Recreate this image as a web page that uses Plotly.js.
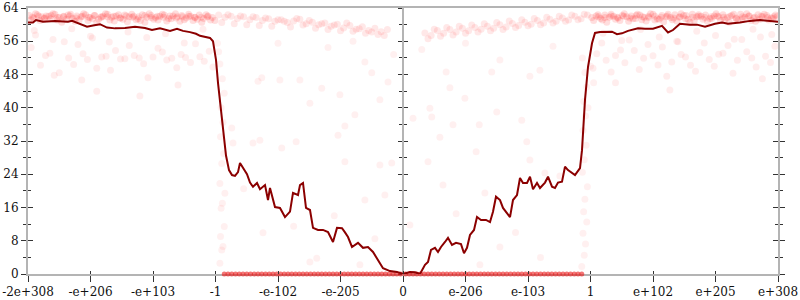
<!DOCTYPE html>
<html>
<head>
<meta charset="utf-8">
<script src="https://cdn.plot.ly/plotly-3.0.1.min.js"></script>
<style>html,body{margin:0;padding:0;background:#fff;}#chart{width:800px;height:300px;}</style>
</head>
<body>
<div id="chart"></div>
<script>
// x positions are in "tick units": -6 .. 6 map onto the 13 labelled ticks
const tickVals = [-6,-5,-4,-3,-2,-1,0,1,2,3,4,5,6];
const tickLabels = ["-2e+308","-e+206","-e+103","-1","-e-102","-e-205","0","e-206","e-103","1","e+102","e+205","e+308"];
const yTicks = [0,8,16,24,32,40,48,56,64];

// running median line
const lineX = [-6.0,-5.92,-5.872,-5.76,-5.568,-5.36,-5.296,-5.168,-5.056,-4.96,-4.848,-4.736,-4.608,-4.448,-4.288,-4.128,-4.016,-3.888,-3.728,-3.616,-3.52,-3.408,-3.312,-3.248,-3.168,-3.088,-3.04,-2.992,-2.96,-2.912,-2.864,-2.832,-2.784,-2.736,-2.688,-2.64,-2.608,-2.56,-2.496,-2.448,-2.4,-2.336,-2.288,-2.208,-2.16,-2.128,-2.048,-1.968,-1.888,-1.808,-1.76,-1.68,-1.648,-1.6,-1.552,-1.488,-1.44,-1.36,-1.28,-1.2,-1.12,-1.056,-0.976,-0.928,-0.88,-0.816,-0.72,-0.64,-0.56,-0.48,-0.4,-0.32,-0.208,-0.096,0,0.112,0.192,0.272,0.352,0.4,0.448,0.512,0.56,0.608,0.672,0.72,0.784,0.848,0.928,0.976,1.024,1.072,1.136,1.184,1.248,1.328,1.392,1.44,1.488,1.552,1.6,1.664,1.712,1.76,1.824,1.872,1.92,1.984,2.032,2.08,2.144,2.192,2.272,2.32,2.384,2.432,2.48,2.544,2.592,2.64,2.704,2.752,2.832,2.864,2.912,2.96,3.024,3.072,3.152,3.232,3.344,3.424,3.504,3.6,3.76,3.872,4.0,4.144,4.24,4.32,4.432,4.592,4.704,4.832,4.992,5.104,5.2,5.392,5.552,5.712,5.84,6.0];
const lineY = [60.5,60.5,61.1,60.7,60.9,60.7,60.9,60.2,59.5,59.8,60.1,59.3,59.1,59.2,59.5,59.2,58.7,59.1,58.5,59.0,58.5,58.2,57.8,57.3,57.0,56.8,56.0,51.5,46.0,39.5,32.2,28.5,25.0,23.8,23.6,24.5,26.7,25.5,24.0,22.0,21.0,21.9,20.4,21.4,17.8,20.7,16.1,15.9,13.7,15.0,19.5,19.0,21.4,21.9,15.9,15.4,11.1,10.6,10.6,10.1,7.7,11.1,11.0,10.0,8.9,6.5,7.5,6.3,6.5,5.3,3.4,1.4,0.7,0.5,0.0,0.5,0.4,0.0,2.2,2.9,5.8,6.3,5.3,6.5,7.7,8.7,7.0,7.5,7.2,5.0,6.3,9.4,10.6,13.7,13.0,13.0,12.5,15.0,18.6,17.8,15.9,14.7,13.7,17.8,19.0,23.1,21.9,21.9,23.4,20.4,21.9,20.7,22.0,23.4,21.0,20.7,22.0,22.2,25.8,25.0,24.3,23.8,25.5,29.8,41.9,49.8,55.5,58.0,58.2,58.3,58.3,57.7,57.9,58.5,59.1,59.0,59.0,59.7,58.1,58.7,60.2,60.0,60.0,59.5,60.2,60.5,60.2,60.5,60.9,61.1,60.9,60.7];

// sample cloud: upper band, left side
const topLeftX = [-5.98,-5.91,-5.85,-5.78,-5.71,-5.64,-5.57,-5.5,-5.43,-5.36,-5.29,-5.22,-5.15,-5.08,-5.01,-4.94,-4.87,-4.8,-4.73,-4.66,-4.59,-4.52,-4.45,-4.38,-4.31,-4.24,-4.17,-4.1,-4.03,-3.96,-3.89,-3.82,-3.75,-3.68,-3.61,-3.54,-3.47,-3.4,-3.33,-3.26,-3.19,-3.12,-3.05,
  -5.95,-5.88,-5.81,-5.74,-5.67,-5.6,-5.53,-5.46,-5.39,-5.32,-5.25,-5.18,-5.11,-5.04,-4.97,-4.9,-4.83,-4.76,-4.69,-4.62,-4.55,-4.48,-4.41,-4.34,-4.27,-4.2,-4.13,-4.06,-3.99,-3.92,-3.85,-3.78,-3.71,-3.64,-3.57,-3.5,-3.43,-3.36,-3.29,-3.22,-3.15,-3.08,-3.01,
  -5.93,-5.83,-5.73,-5.63,-5.53,-5.43,-5.33,-5.23,-5.13,-5.03,-4.93,-4.83,-4.73,-4.63,-4.53,-4.43,-4.33,-4.23,-4.13,-4.03,-3.93,-3.83,-3.73,-3.63,-3.53,-3.43,-3.33,-3.23,-3.13];
const topLeftY = [62.2,61.6,62.4,61.9,62.1,61.4,62.5,61.8,62.0,62.3,61.5,62.1,61.9,62.4,61.7,62.2,61.3,62.0,62.5,61.8,62.1,61.6,62.3,61.9,62.0,61.4,62.4,61.8,62.2,61.7,62.0,62.3,61.5,62.1,61.9,62.2,61.6,62.0,61.8,62.3,61.5,62.1,61.7,
  61.2,62.6,61.0,61.5,62.0,62.6,61.1,60.6,61.3,62.5,60.8,61.2,62.6,61.0,61.4,60.5,61.9,62.6,61.1,60.9,62.4,61.3,60.7,62.5,61.2,61.0,60.6,62.6,61.3,61.1,62.5,60.9,61.4,62.6,60.8,61.2,62.5,61.0,61.3,60.6,62.4,61.1,61.0,
  61.8,62.0,61.6,62.2,61.7,61.9,62.1,61.6,62.0,61.8,62.2,61.7,61.9,62.0,61.6,62.1,61.8,61.9,62.2,61.7,62.0,61.8,62.1,61.6,61.9,62.0,61.7,61.8,61.9];
// upper band, right side
const topRightX = [3.02,3.09,3.16,3.23,3.30,3.37,3.44,3.51,3.58,3.65,3.72,3.79,3.86,3.93,4.00,4.07,4.14,4.21,4.28,4.35,4.42,4.49,4.56,4.63,4.70,4.77,4.84,4.91,4.98,5.05,5.12,5.19,5.26,5.33,5.40,5.47,5.54,5.61,5.68,5.75,5.82,5.89,5.96,
  3.05,3.12,3.19,3.26,3.33,3.40,3.47,3.54,3.61,3.68,3.75,3.82,3.89,3.96,4.03,4.10,4.17,4.24,4.31,4.38,4.45,4.52,4.59,4.66,4.73,4.80,4.87,4.94,5.01,5.08,5.15,5.22,5.29,5.36,5.43,5.50,5.57,5.64,5.71,5.78,5.85,5.92,5.99,
  3.13,3.23,3.33,3.43,3.53,3.63,3.73,3.83,3.93,4.03,4.13,4.23,4.33,4.43,4.53,4.63,4.73,4.83,4.93,5.03,5.13,5.23,5.33,5.43,5.53,5.63,5.73,5.83,5.93];
const topRightY = [61.7,62.1,61.5,62.3,61.8,62.0,61.6,62.2,61.9,62.1,61.5,62.3,61.8,62.0,62.5,61.4,62.2,61.9,61.7,62.4,61.8,62.2,61.3,62.5,61.9,62.0,62.3,61.5,62.1,61.9,62.4,61.7,62.2,61.4,62.5,61.8,62.1,61.6,62.4,61.9,62.2,61.6,62.3,
  61.0,62.4,61.1,60.6,62.5,61.3,61.0,62.6,60.8,61.4,62.5,61.2,60.9,62.6,61.1,61.3,60.7,62.5,61.2,60.9,62.6,61.4,60.5,61.0,62.4,61.3,60.8,61.5,62.6,61.0,61.2,60.6,62.5,61.1,61.4,62.6,61.0,60.8,61.3,62.5,61.1,61.5,62.0,
  61.9,61.7,62.1,61.8,62.0,61.6,62.2,61.9,61.7,62.0,61.8,62.1,61.6,61.9,62.2,61.8,62.0,61.7,61.9,62.1,61.8,62.0,61.6,61.9,62.1,61.8,62.0,61.7,61.9];
// inner band, left and right of zero
const innerLeftX = [-2.95,-2.85,-2.75,-2.65,-2.55,-2.45,-2.35,-2.25,-2.15,-2.05,-1.95,-1.85,-1.75,-1.65,-1.55,-1.45,-1.35,-1.25,-1.15,-1.05,-0.95,-0.85,-0.75,-0.65,-0.55,-0.45,-0.35,-0.25,
  -2.9,-2.8,-2.7,-2.6,-2.5,-2.4,-2.3,-2.2,-2.1,-2.0,-1.9,-1.8,-1.7,-1.6,-1.5,-1.4,-1.3,-1.2,-1.1,-1.0,-0.9,-0.8,-0.7,-0.6,-0.5,-0.4,-0.3];
const innerLeftY = [62.3,61.8,62.0,61.5,61.9,61.2,61.7,61.0,61.4,60.8,61.2,60.5,60.9,61.3,60.2,60.6,60.0,60.4,59.6,60.1,59.2,59.8,58.9,59.5,58.6,59.1,58.3,58.8,
  60.5,62.4,60.2,62.1,60.0,61.9,59.8,61.6,59.6,61.2,60.8,59.4,61.5,59.9,61.0,59.1,60.2,58.8,59.9,58.5,60.4,58.4,59.0,57.9,58.2,57.6,57.4];
const innerRightX = [0.35,0.45,0.55,0.65,0.75,0.85,0.95,1.05,1.15,1.25,1.35,1.45,1.55,1.65,1.75,1.85,1.95,2.05,2.15,2.25,2.35,2.45,2.55,2.65,2.75,2.85,2.95,
  0.4,0.5,0.6,0.7,0.8,0.9,1.0,1.1,1.2,1.3,1.4,1.5,1.6,1.7,1.8,1.9,2.0,2.1,2.2,2.3,2.4,2.5,2.6,2.7,2.8,2.9];
const innerRightY = [58.0,57.4,58.6,57.9,58.8,58.2,59.1,58.5,59.3,58.9,59.6,59.1,60.0,59.4,60.3,59.8,60.6,60.1,61.0,60.4,61.3,60.8,61.6,61.1,62.0,61.4,62.3,
  56.6,58.9,57.2,59.3,57.5,59.6,57.9,59.9,58.2,60.2,58.5,60.5,58.8,60.9,59.3,61.2,59.7,61.5,60.0,61.8,60.4,62.0,60.8,62.3,61.2,62.5];
// lower band around 52, outer regions
const lowLeftX = [-5.95,-5.8,-5.65,-5.5,-5.35,-5.2,-5.05,-4.9,-4.75,-4.6,-4.45,-4.3,-4.15,-4.0,-3.85,-3.7,-3.55,-3.4,-3.25,-3.1,
  -5.88,-5.72,-5.58,-5.42,-5.27,-5.12,-4.97,-4.82,-4.68,-4.52,-4.38,-4.22,-4.08,-3.92,-3.78,-3.62,-3.48,-3.32,-3.18,-3.04,
  -5.9,-5.6,-5.3,-5.0,-4.7,-4.4,-4.1,-3.8,-3.5,-3.2,-4.21,-5.14,-3.6,-4.9];
const lowLeftY = [54.5,50.2,53.1,48.4,52.0,55.2,51.6,49.5,52.4,53.8,51.8,52.6,50.6,52.2,53.4,51.9,52.8,50.9,52.3,53.6,
  57.5,52.6,47.8,55.9,50.4,53.0,56.8,52.2,49.0,51.7,55.0,52.0,47.2,54.3,51.5,49.6,52.1,55.4,51.2,49.8,
  58.6,56.4,59.0,57.2,55.8,58.2,56.9,57.8,55.6,58.9,42.8,46.7,45.5,44.0];
const lowRightX = [3.1,3.25,3.4,3.55,3.7,3.85,4.0,4.15,4.3,4.45,4.6,4.75,4.9,5.05,5.2,5.35,5.5,5.65,5.8,5.95,
  3.04,3.18,3.33,3.48,3.62,3.78,3.92,4.08,4.22,4.38,4.52,4.68,4.82,4.98,5.12,5.28,5.42,5.58,5.72,5.88,
  3.2,3.5,3.8,4.1,4.4,4.7,5.0,5.3,5.6,5.9,4.27,3.4,5.75];
const lowRightY = [53.0,51.4,52.6,50.8,53.8,51.9,52.5,54.6,51.0,52.8,50.2,53.3,51.6,52.9,55.0,51.4,53.5,49.8,52.4,54.8,
  49.5,55.6,48.6,53.9,56.3,49.2,55.2,50.3,47.6,56.0,52.2,48.8,55.6,50.0,53.1,48.3,56.4,52.0,57.0,50.9,
  57.9,56.2,58.8,57.0,55.9,58.4,57.4,56.5,58.9,57.6,44.3,46.0,47.0];
// columns of samples next to -1 and 1
const colLeftX = [-2.93,-2.9,-2.88,-2.92,-2.86,-2.91,-2.89,-2.85,-2.93,-2.9,-2.87,-2.92,-2.88,-2.91,-2.86,-2.89,-2.93,-2.74,-2.72,-2.95,-2.97];
const colLeftY = [2.6,5.8,6.6,9.0,11.4,15.8,17.0,19.4,21.8,26.6,29.0,33.0,36.5,40.0,43.5,47.0,50.5,35.1,31.5,53.5,55.5];
const colRightX = [2.86,2.9,2.92,2.88,2.94,2.89,2.91,2.95,2.87,2.9,2.93,2.88,2.92,2.89,2.94,2.91,2.87,3.0,3.05,2.96];
const colRightY = [1.8,4.5,7.2,9.8,12.5,15.0,18.0,21.0,24.5,27.5,31.0,34.5,38.0,41.5,45.0,48.5,52.0,50.0,46.0,40.0];
// sparse samples in the middle
const midX = [-2.32,-2.26,-1.97,-1.65,-1.49,-1.3,-1.01,-0.93,-0.77,-0.61,-0.5,-0.37,-0.24,-1.04,-1.94,-2.4,-2.29,-1.71,-0.93,-0.61,-0.29,-0.18,-2.24,-1.49,-0.69,-1.38,-0.37,-1.2,-0.15,-2.0,-0.8,-2.55,-1.1,-0.45,-1.75,
  0.69,0.75,0.8,0.46,0.16,1.22,1.5,1.9,2.03,2.19,0.99,1.42,1.55,1.98,0.59,0.43,0.4,0.11,0.64,1.17,2.03,2.27,2.51,1.55,1.23,1.31,0.3,1.0,2.4,0.85,1.8,2.2];
const midY = [46.4,47.2,46.7,46.7,41.1,44.7,43.1,35.6,38.3,51.0,48.4,41.9,46.2,33.4,30.3,31.5,32.2,31.8,27.0,17.8,19.0,26.7,9.9,2.9,2.2,3.8,26.2,54.5,52.8,55.5,56.0,20.5,14.0,8.5,11.5,
  48.6,44.8,35.9,37.8,37.5,35.9,39.0,37.0,47.6,49.0,42.3,48.6,51.5,31.8,32.9,39.9,27.0,11.8,21.4,29.4,27.4,24.3,23.6,6.5,2.2,19.5,54.0,55.5,54.8,14.5,10.0,4.0];
// samples exactly at zero
const zeroX = [-2.86,-2.8,-2.74,-2.68,-2.62,-2.56,-2.5,-2.44,-2.38,-2.32,-2.26,-2.2,-2.14,-2.08,-2.02,-1.96,-1.9,-1.84,-1.78,-1.72,-1.66,-1.6,-1.54,-1.48,-1.42,-1.36,-1.3,-1.24,-1.18,-1.12,-1.06,-1.0,-0.94,-0.88,-0.82,-0.76,-0.7,-0.64,-0.58,-0.52,-0.46,-0.4,-0.34,-0.28,-0.22,-0.16,-0.1,-0.04,
  0.04,0.1,0.16,0.22,0.28,0.34,0.4,0.46,0.52,0.58,0.64,0.7,0.76,0.82,0.88,0.94,1.0,1.06,1.12,1.18,1.24,1.3,1.36,1.42,1.48,1.54,1.6,1.66,1.72,1.78,1.84,1.9,1.96,2.02,2.08,2.14,2.2,2.26,2.32,2.38,2.44,2.5,2.56,2.62,2.68,2.74,2.8,2.86];
const zeroY = zeroX.map(() => 0);

const axLine = '#b4b4b4';
const tickCol = '#333333';
const fnt = {family: '"DejaVu Serif", "Liberation Serif", serif', size: 12, color: '#111'};

function cloud(xs, ys, alpha, size) {
  return {x: xs, y: ys, type: 'scatter', mode: 'markers', hoverinfo: 'skip',
    marker: {size: size, color: 'rgba(255,0,0,' + alpha + ')', line: {width: 0}}};
}

const traces = [
  cloud([].concat(topLeftX, topRightX), [].concat(topLeftY, topRightY), 0.13, 7),
  cloud([].concat(innerLeftX, innerRightX), [].concat(innerLeftY, innerRightY), 0.09, 7),
  cloud([].concat(lowLeftX, lowRightX), [].concat(lowLeftY, lowRightY), 0.07, 7),
  cloud([].concat(colLeftX, colRightX, midX), [].concat(colLeftY, colRightY, midY), 0.06, 7),
  {x: zeroX, y: zeroY, type: 'scatter', mode: 'markers', hoverinfo: 'skip', cliponaxis: false,
   marker: {size: 5, color: 'rgba(235,25,25,0.6)', line: {width: 0}}},
  {x: lineX, y: lineY, type: 'scatter', mode: 'lines', hoverinfo: 'skip',
   line: {color: '#8b0000', width: 2}},
  {x: [], y: [], xaxis: 'x2', yaxis: 'y', type: 'scatter'},
  {x: [], y: [], xaxis: 'x', yaxis: 'y2', type: 'scatter'},
  {x: [], y: [], xaxis: 'x', yaxis: 'y3', type: 'scatter'},
  {x: [], y: [], xaxis: 'x', yaxis: 'y4', type: 'scatter'}
];

const yMinor = {dtick: 4, ticks: 'outside', ticklen: 3, tickcolor: tickCol, tickwidth: 1, showgrid: false};
const yMinorIn = {dtick: 4, ticks: 'inside', ticklen: 3, tickcolor: tickCol, tickwidth: 1, showgrid: false};

const layout = {
  width: 800, height: 300,
  margin: {l: 28, r: 22, t: 8, b: 26, pad: 0},
  paper_bgcolor: '#fff', plot_bgcolor: '#fff',
  showlegend: false,
  xaxis: {range: [-6, 6], tickmode: 'array', tickvals: tickVals, ticktext: tickLabels,
    ticks: 'outside', ticklen: 6, tickwidth: 1, tickcolor: tickCol,
    showline: true, linecolor: axLine, linewidth: 2, mirror: true,
    showgrid: false, zeroline: false, tickfont: fnt, layer: 'below traces', fixedrange: true},
  xaxis2: {overlaying: 'x', matches: 'x', anchor: 'y', tickmode: 'array', tickvals: tickVals,
    ticks: 'inside', ticklen: 3, tickwidth: 1, tickcolor: tickCol, showticklabels: false,
    showline: false, showgrid: false, zeroline: false},
  yaxis: {range: [0, 64], tickmode: 'array', tickvals: yTicks, ticks: 'outside', ticklen: 5, tickwidth: 1, tickcolor: tickCol,
    minor: yMinor, showline: true, linecolor: axLine, linewidth: 2, mirror: 'ticks',
    showgrid: false, zeroline: false, tickfont: fnt, layer: 'below traces', fixedrange: true},
  yaxis2: {overlaying: 'y', range: [0, 64], tickmode: 'array', tickvals: yTicks, ticks: 'inside', ticklen: 5, tickwidth: 1,
    tickcolor: tickCol, minor: yMinorIn, mirror: 'ticks', showline: false, showticklabels: false,
    showgrid: false, zeroline: false},
  yaxis3: {overlaying: 'y', anchor: 'free', position: 0.5, range: [0, 64], tickmode: 'array', tickvals: yTicks,
    ticks: 'outside', ticklen: 4, tickwidth: 1, tickcolor: tickCol, minor: yMinor,
    showline: true, linecolor: axLine, linewidth: 2, showticklabels: false, showgrid: false, zeroline: false, layer: 'below traces'},
  yaxis4: {overlaying: 'y', anchor: 'free', position: 0.5, range: [0, 64], tickmode: 'array', tickvals: yTicks,
    ticks: 'inside', ticklen: 4, tickwidth: 1, tickcolor: tickCol, minor: yMinorIn,
    showline: false, showticklabels: false, showgrid: false, zeroline: false}
};

Plotly.newPlot('chart', traces, layout, {displayModeBar: false, staticPlot: true});
</script>
</body>
</html>
